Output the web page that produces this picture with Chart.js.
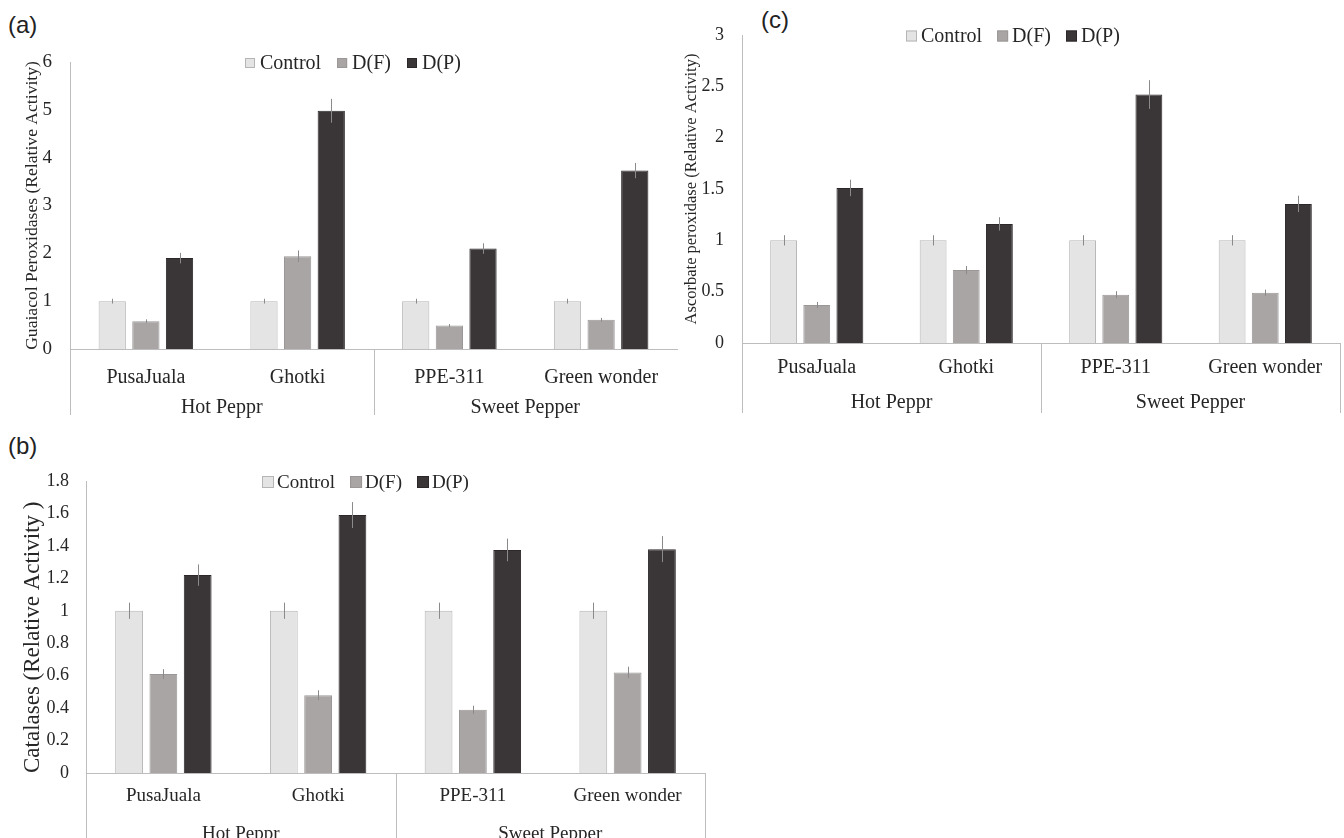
<!DOCTYPE html>
<html>
<head>
<meta charset="utf-8">
<script src="https://cdn.jsdelivr.net/npm/chart.js@4.4.1/dist/chart.umd.min.js"></script>
<style>
  html, body { margin: 0; padding: 0; background: #fff; }
  body { width: 1344px; height: 838px; position: relative; overflow: hidden; }
  canvas { position: absolute; }
  .tag { position: absolute; font-family: 'Liberation Sans', Arial, sans-serif; font-size: 24px; color: #222; }
</style>
</head>
<body>
<div class="tag" style="left:8px;top:11px">(a)</div>
<div class="tag" style="left:8px;top:432px">(b)</div>
<div class="tag" style="left:761px;top:6px">(c)</div>
<canvas id="chart-a" width="690" height="425" style="left:0;top:0"></canvas>
<canvas id="chart-c" width="664" height="420" style="left:680px;top:0"></canvas>
<canvas id="chart-b" width="760" height="418" style="left:0;top:420px"></canvas>
<script>
(function () {
  'use strict';

  var categories = ['PusaJuala', 'Ghotki', 'PPE-311', 'Green wonder'];
  var groupNames = ['Hot Peppr', 'Sweet Pepper'];
  var groupSizes = [2, 2];
  var seriesNames = ['Control', 'D(F)', 'D(P)'];

  // (a) guaiacol peroxidases
  var guaiacolControl = [1, 1, 1, 1];
  var guaiacolDF = [0.58, 1.94, 0.49, 0.61];
  var guaiacolDP = [1.9, 4.98, 2.1, 3.73];
  var guaiacolControlErr = [0.05, 0.05, 0.05, 0.05];
  var guaiacolDFErr = [0.04, 0.12, 0.03, 0.04];
  var guaiacolDPErr = [0.11, 0.25, 0.11, 0.16];
  var guaiacolTicks = [0, 1, 2, 3, 4, 5, 6];

  // (b) catalases
  var catalaseControl = [1, 1, 1, 1];
  var catalaseDF = [0.61, 0.48, 0.39, 0.62];
  var catalaseDP = [1.22, 1.59, 1.375, 1.38];
  var catalaseControlErr = [0.05, 0.05, 0.05, 0.05];
  var catalaseDFErr = [0.03, 0.03, 0.025, 0.035];
  var catalaseDPErr = [0.066, 0.08, 0.07, 0.08];
  var catalaseTicks = [0, 0.2, 0.4, 0.6, 0.8, 1, 1.2, 1.4, 1.6, 1.8];

  // (c) ascorbate peroxidase
  var apxControl = [1, 1, 1, 1];
  var apxDF = [0.37, 0.71, 0.47, 0.49];
  var apxDP = [1.51, 1.16, 2.42, 1.355];
  var apxControlErr = [0.05, 0.05, 0.05, 0.05];
  var apxDFErr = [0.03, 0.04, 0.035, 0.03];
  var apxDPErr = [0.08, 0.065, 0.14, 0.08];
  var apxTicks = [0, 0.5, 1, 1.5, 2, 2.5, 3];

  var SERIF = "'Liberation Serif', 'Times New Roman', serif";
  var TEXT = '#262626';
  var AXIS = '#bdbdbd';
  var fills = ['#e4e4e4', '#a9a5a5', '#3a3536'];
  var borders = ['#b5b5b5', '#9b9797', '#2c2829'];

  var errorBars = {
    id: 'errorBars',
    afterDatasetsDraw: function (chart, args, opts) {
      var ctx = chart.ctx;
      var y = chart.scales.y;
      ctx.save();
      ctx.strokeStyle = opts.color;
      ctx.lineWidth = opts.width;
      chart.data.datasets.forEach(function (ds, i) {
        var meta = chart.getDatasetMeta(i);
        meta.data.forEach(function (bar, j) {
          var v = ds.data[j], e = ds.errors[j];
          ctx.beginPath();
          ctx.moveTo(Math.round(bar.x) + 0.5, y.getPixelForValue(v - e));
          ctx.lineTo(Math.round(bar.x) + 0.5, y.getPixelForValue(v + e));
          ctx.stroke();
        });
      });
      ctx.restore();
    }
  };

  var floatLegend = {
    id: 'floatLegend',
    afterDraw: function (chart, args, opts) {
      var ctx = chart.ctx;
      var box = opts.box;
      var x = opts.x;
      ctx.save();
      ctx.font = opts.size + 'px ' + SERIF;
      ctx.textBaseline = 'middle';
      ctx.lineWidth = 1;
      chart.data.datasets.forEach(function (ds) {
        ctx.fillStyle = ds.backgroundColor;
        ctx.fillRect(x, opts.y - box / 2, box, box);
        ctx.strokeStyle = ds.borderColor;
        ctx.strokeRect(x + 0.5, opts.y - box / 2 + 0.5, box - 1, box - 1);
        x += box + opts.gap;
        ctx.fillStyle = TEXT;
        ctx.fillText(ds.label, x, opts.y + 1);
        x += ctx.measureText(ds.label).width + opts.spacing;
      });
      ctx.restore();
    }
  };

  // second row of the category axis: group names and separators
  var groupAxis = {
    id: 'groupAxis',
    afterDraw: function (chart, args, opts) {
      var ctx = chart.ctx;
      var area = chart.chartArea;
      var n = chart.data.labels.length;
      var step = (area.right - area.left) / n;
      ctx.save();
      ctx.strokeStyle = AXIS;
      ctx.lineWidth = 1;
      ctx.fillStyle = TEXT;
      ctx.font = opts.size + 'px ' + SERIF;
      ctx.textAlign = 'center';
      ctx.textBaseline = 'middle';
      var start = 0;
      var edges = [];
      groupNames.forEach(function (name, gi) {
        var x0 = area.left + start * step;
        var x1 = area.left + (start + groupSizes[gi]) * step;
        edges.push(x0);
        ctx.fillText(name, (x0 + x1) / 2, area.bottom + opts.offset);
        start += groupSizes[gi];
      });
      if (opts.rightEdge) edges.push(area.right);
      edges.forEach(function (ex) {
        var px = Math.round(ex) + 0.5;
        ctx.beginPath();
        ctx.moveTo(px, area.bottom);
        ctx.lineTo(px, area.bottom + opts.depth);
        ctx.stroke();
      });
      ctx.restore();
    }
  };

  function makeChart(id, cfg) {
    var values = [cfg.control, cfg.df, cfg.dp];
    var errs = [cfg.controlErr, cfg.dfErr, cfg.dpErr];
    var datasets = seriesNames.map(function (name, i) {
      return {
        label: name,
        data: values[i],
        errors: errs[i],
        backgroundColor: fills[i],
        borderColor: borders[i],
        borderWidth: 1,
        categoryPercentage: 0.665,
        barPercentage: 0.81
      };
    });
    var ticks = cfg.ticks;
    return new Chart(document.getElementById(id), {
      type: 'bar',
      data: { labels: categories, datasets: datasets },
      plugins: [errorBars, floatLegend, groupAxis],
      options: {
        responsive: false,
        animation: false,
        layout: { padding: { left: 0, top: cfg.top, right: cfg.right, bottom: 0 } },
        plugins: {
          legend: { display: false },
          tooltip: { enabled: false },
          errorBars: { color: '#8a8a8a', width: 1 },
          floatLegend: cfg.legend,
          groupAxis: cfg.groups
        },
        scales: {
          x: {
            grid: { display: false, drawTicks: false },
            border: { display: true, color: AXIS, width: 1 },
            ticks: { color: TEXT, padding: cfg.xPad, font: { family: SERIF, size: cfg.xSize } },
            afterFit: function (scale) { scale.height = cfg.xHeight; }
          },
          y: {
            min: ticks[0],
            max: ticks[ticks.length - 1],
            afterBuildTicks: function (scale) {
              scale.ticks = ticks.map(function (v) { return { value: v }; });
            },
            grid: { display: false, drawTicks: false },
            border: { display: true, color: AXIS, width: 1 },
            ticks: {
              color: TEXT,
              padding: cfg.yPad,
              font: { family: SERIF, size: cfg.ySize },
              callback: function (v) { return String(+Number(v).toFixed(2)); }
            },
            title: {
              display: true,
              text: cfg.title,
              color: TEXT,
              align: cfg.titleAlign,
              padding: { top: cfg.titlePad, bottom: 0 },
              font: { family: SERIF, size: cfg.titleSize }
            },
            afterFit: function (scale) { scale.width = cfg.yWidth; }
          }
        }
      }
    });
  }

  makeChart('chart-a', {
    control: guaiacolControl, df: guaiacolDF, dp: guaiacolDP,
    controlErr: guaiacolControlErr, dfErr: guaiacolDFErr, dpErr: guaiacolDPErr,
    ticks: guaiacolTicks,
    title: 'Guaiacol Peroxidases (Relative Activity)',
    titleSize: 17.6, titlePad: 22, titleAlign: 'center',
    top: 62, right: 13, yWidth: 70, xHeight: 76,
    xPad: 17, xSize: 20, yPad: 18, ySize: 19,
    legend: { x: 245, y: 63, size: 20, box: 10, gap: 5, spacing: 16 },
    groups: { size: 20, offset: 59, depth: 66, rightEdge: false }
  });

  makeChart('chart-c', {
    control: apxControl, df: apxDF, dp: apxDP,
    controlErr: apxControlErr, dfErr: apxDFErr, dpErr: apxDPErr,
    ticks: apxTicks,
    title: 'Ascorbate peroxidase (Relative Activity)',
    titleSize: 16.5, titlePad: 2, titleAlign: 'center',
    top: 35, right: 4, yWidth: 62, xHeight: 77,
    xPad: 13, xSize: 20, yPad: 18, ySize: 18,
    legend: { x: 226, y: 36, size: 20, box: 11, gap: 4, spacing: 15 },
    groups: { size: 20, offset: 60, depth: 70, rightEdge: true }
  });

  makeChart('chart-b', {
    control: catalaseControl, df: catalaseDF, dp: catalaseDP,
    controlErr: catalaseControlErr, dfErr: catalaseDFErr, dpErr: catalaseDPErr,
    ticks: catalaseTicks,
    title: 'Catalases (Relative Activity )',
    titleSize: 23, titlePad: 19, titleAlign: 'start',
    top: 61, right: 55, yWidth: 86, xHeight: 65,
    xPad: 12, xSize: 19, yPad: 17, ySize: 18,
    legend: { x: 262, y: 62, size: 19, box: 12, gap: 3, spacing: 15 },
    groups: { size: 19, offset: 61, depth: 70, rightEdge: true }
  });
})();
</script>
</body>
</html>
